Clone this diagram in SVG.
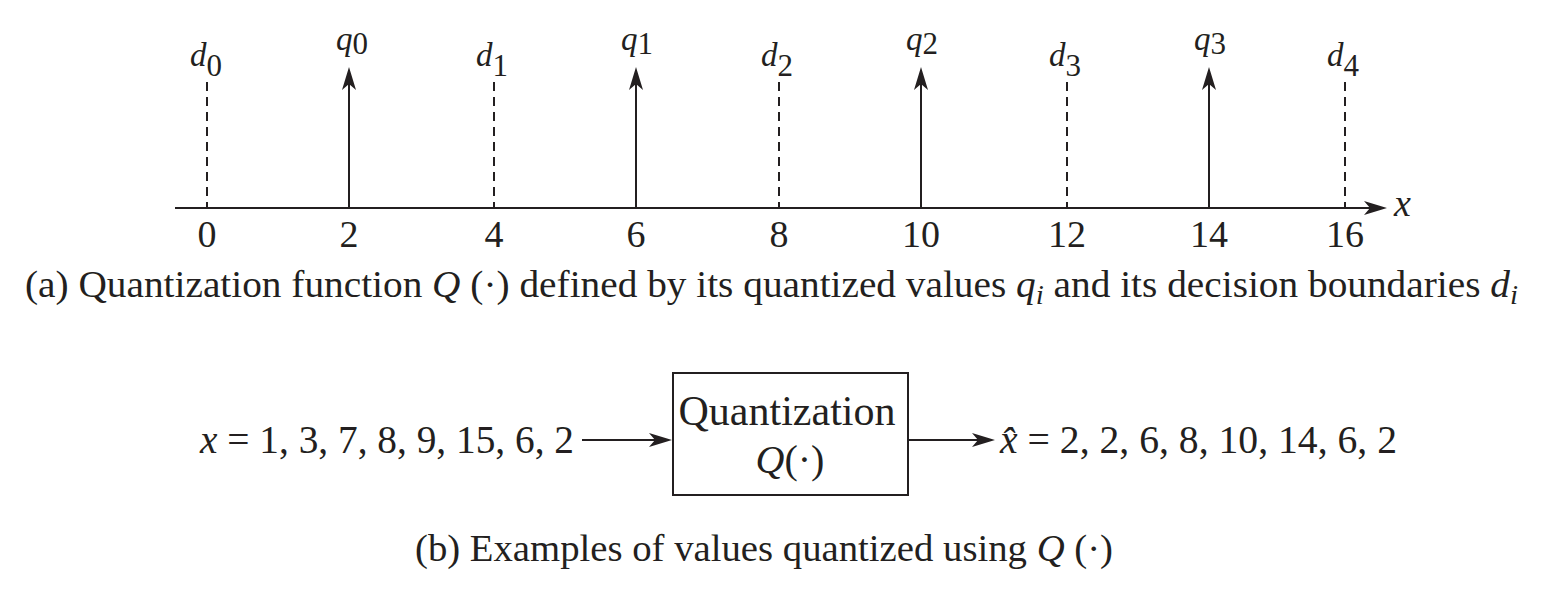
<svg xmlns="http://www.w3.org/2000/svg" width="1548" height="589" viewBox="0 0 1548 589">
<style>
  .it { font-style: italic; }
  .lbl { font-size: 33px; font-style: italic; }
  .sub { font-size: 31px; font-style: normal; }
  .tick { font-size: 38px; text-anchor: middle; }
  .cap { font-size: 38px; }
  .formula { font-size: 40px; }
  .solid { stroke: #231f20; stroke-width: 2; fill: none; }
  .dash { stroke: #231f20; stroke-width: 2; stroke-dasharray: 9 6; fill: none; }
  .box { stroke: #231f20; stroke-width: 2; fill: #ffffff; }
</style>
<defs>
  <marker id="ah" viewBox="-25 -8 27 16" refX="-10" refY="0" markerWidth="27" markerHeight="16" orient="auto" markerUnits="userSpaceOnUse">
    <path d="M0,0 L-23,-7 L-17,0 L-23,7 Z" fill="#231f20"/>
  </marker>
</defs>
<rect width="1548" height="589" fill="#ffffff"/>

<g id="connectors">
  <line id="axis" class="solid" x1="175" y1="208" x2="1377" y2="208" marker-end="url(#ah)"/>
  <line class="dash" x1="207" y1="82" x2="207" y2="208"/>
  <line class="dash" x1="494" y1="82" x2="494" y2="208"/>
  <line class="dash" x1="779" y1="82" x2="779" y2="208"/>
  <line class="dash" x1="1067" y1="82" x2="1067" y2="208"/>
  <line class="dash" x1="1345" y1="82" x2="1345" y2="208"/>
  <line class="solid" x1="349" y1="208" x2="349" y2="77" marker-end="url(#ah)"/>
  <line class="solid" x1="636" y1="208" x2="636" y2="77" marker-end="url(#ah)"/>
  <line class="solid" x1="921" y1="208" x2="921" y2="77" marker-end="url(#ah)"/>
  <line class="solid" x1="1209" y1="208" x2="1209" y2="77" marker-end="url(#ah)"/>
  <line id="in-arrow" class="solid" x1="582" y1="440" x2="662" y2="440" marker-end="url(#ah)"/>
  <line id="out-arrow" class="solid" x1="908" y1="440" x2="985" y2="440" marker-end="url(#ah)"/>
</g>

<g font-family="'Liberation Serif', 'Times New Roman', serif" fill="#231f20">
<g id="axis-labels">
  <text class="it" x="1394" y="216" font-size="38">x</text>
  <text class="tick" x="207" y="247">0</text>
  <text class="tick" x="349" y="247">2</text>
  <text class="tick" x="494" y="247">4</text>
  <text class="tick" x="636" y="247">6</text>
  <text class="tick" x="779" y="247">8</text>
  <text class="tick" x="921" y="247">10</text>
  <text class="tick" x="1067" y="247">12</text>
  <text class="tick" x="1209" y="247">14</text>
  <text class="tick" x="1345" y="247">16</text>
</g>

<g id="boundaries">
  <text class="lbl" x="190" y="66">d<tspan class="sub" dy="10">0</tspan></text>
  <text class="lbl" x="476" y="66">d<tspan class="sub" dy="10">1</tspan></text>
  <text class="lbl" x="761" y="66">d<tspan class="sub" dy="10">2</tspan></text>
  <text class="lbl" x="1049" y="66">d<tspan class="sub" dy="10">3</tspan></text>
  <text class="lbl" x="1327" y="66">d<tspan class="sub" dy="10">4</tspan></text>
</g>

<g id="levels">
  <text class="lbl" x="336" y="50">q<tspan class="sub" dy="4">0</tspan></text>
  <text class="lbl" x="621" y="50">q<tspan class="sub" dy="4">1</tspan></text>
  <text class="lbl" x="906" y="50">q<tspan class="sub" dy="4">2</tspan></text>
  <text class="lbl" x="1194" y="50">q<tspan class="sub" dy="4">3</tspan></text>
</g>

<g id="caption-a">
  <text class="cap" x="25" y="297" textLength="1493" lengthAdjust="spacingAndGlyphs">(a) Quantization function <tspan class="it">Q</tspan> (·) defined by its quantized values <tspan class="it">q</tspan><tspan class="it" font-size="28" dy="7">i</tspan><tspan dy="-7"> and its decision boundaries </tspan><tspan class="it">d</tspan><tspan class="it" font-size="28" dy="7">i</tspan></text>
</g>

<g id="input">
  <text class="formula" x="200" y="453" textLength="374" lengthAdjust="spacingAndGlyphs"><tspan class="it">x</tspan> = 1, 3, 7, 8, 9, 15, 6, 2</text>
</g>

<g id="quantizer">
  <rect class="box" x="673" y="373" width="235" height="122"/>
  <text x="787" y="425" font-size="42" text-anchor="middle" textLength="217" lengthAdjust="spacingAndGlyphs">Quantization</text>
  <text x="790" y="473" font-size="40" text-anchor="middle"><tspan class="it">Q</tspan>(·)</text>
</g>

<g id="output">
  <text class="formula" x="1000" y="453" textLength="397" lengthAdjust="spacingAndGlyphs"><tspan class="it">x̂</tspan> = 2, 2, 6, 8, 10, 14, 6, 2</text>
</g>

<g id="caption-b">
  <text class="cap" x="415" y="561" textLength="698" lengthAdjust="spacingAndGlyphs">(b) Examples of values quantized using <tspan class="it">Q</tspan> (·)</text>
</g>
</g>
</svg>
